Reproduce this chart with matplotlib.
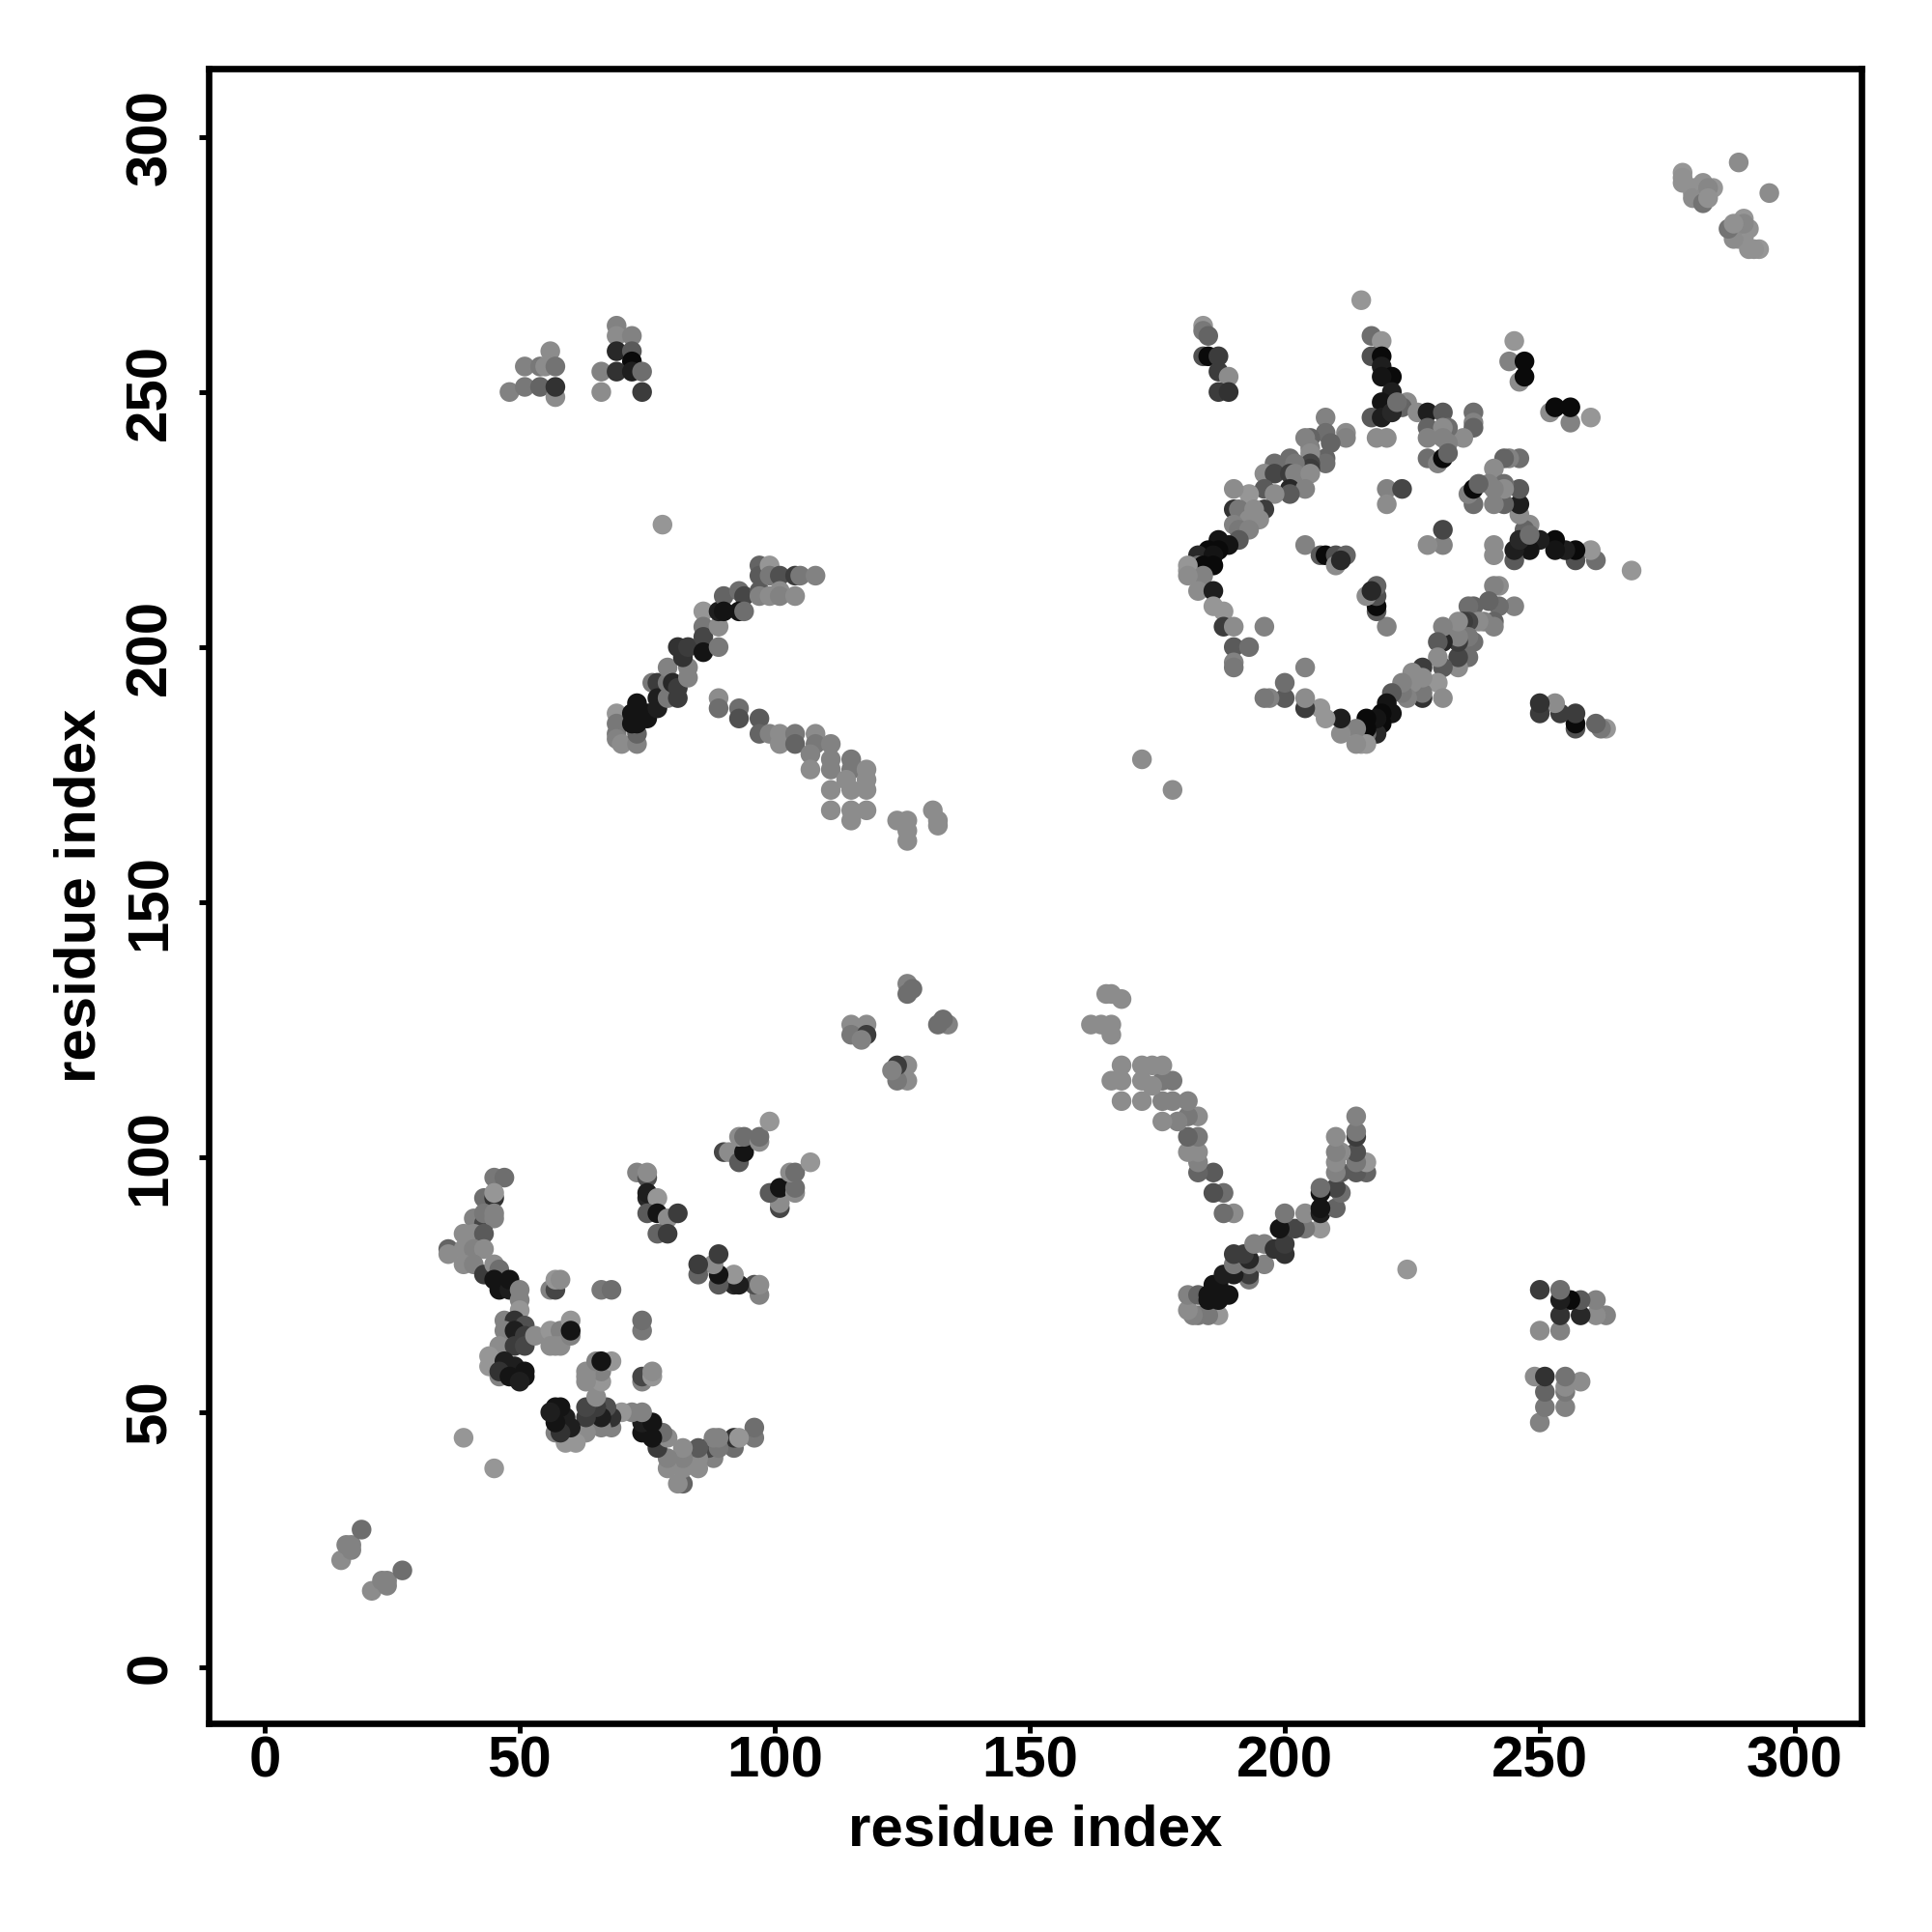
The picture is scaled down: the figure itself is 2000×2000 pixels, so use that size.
import matplotlib
matplotlib.use("Agg")
import matplotlib.pyplot as plt
import numpy as np

# contact pairs (residue i, residue j, grey level), map is symmetric so only i < j is listed
near_start = [(15, 21, 140), (16, 24, 130), (17, 23, 130), (17, 24, 130), (19, 27, 110), (39, 45, 150)]

arc_left = [
    (36, 82, 100), (36, 81, 140), (45, 96, 120), (47, 96, 110), (43, 92, 110), (45, 92, 50), (45, 93, 150),
    (41, 88, 130), (43, 87, 70), (43, 89, 120), (45, 89, 130), (45, 88, 130), (39, 85, 140), (41, 85, 140),
    (43, 85, 90), (39, 82, 140), (41, 82, 130), (43, 82, 140), (39, 79, 140), (41, 79, 130), (43, 77, 60),
    (45, 79, 140), (46, 78, 110), (45, 76, 20), (46, 74, 20), (48, 74, 30), (48, 76, 20), (50, 74, 130),
    (50, 72, 130), (50, 70, 150), (47, 68, 130), (49, 68, 50), (51, 67, 80), (47, 66, 130), (49, 66, 30),
    (51, 65, 60), (46, 63, 140), (49, 63, 60), (51, 63, 70), (44, 61, 150), (44, 59, 150), (47, 60, 30),
    (49, 59, 30), (46, 57, 130), (46, 58, 50), (48, 57, 20), (51, 58, 20), (51, 57, 20), (50, 56, 30),
    (53, 65, 140), (56, 66, 150), (58, 66, 130), (60, 68, 150), (56, 63, 140), (58, 63, 140),
    (57, 63, 140), (60, 65, 130), (60, 66, 20),
]

clusters_left = [
    (56, 74, 130), (57, 74, 70), (57, 76, 150), (58, 76, 140), (66, 74, 120), (68, 74, 110),
    (73, 97, 130), (75, 96, 80), (75, 97, 140), (75, 92, 40), (75, 93, 30), (77, 92, 150),
    (75, 89, 90), (77, 89, 20), (79, 88, 140), (81, 89, 60), (77, 85, 100), (79, 85, 60),
    (90, 101, 70), (91, 101, 140), (93, 99, 90), (94, 101, 20), (93, 104, 140), (94, 104, 110),
    (97, 103, 140), (97, 104, 110), (99, 107, 150),
]

top_left = [
    (48, 250, 130), (51, 255, 130), (51, 251, 120), (54, 255, 120), (54, 251, 100), (55, 255, 140), (56, 258, 140),
    (57, 249, 140), (57, 251, 50), (57, 255, 115), (66, 250, 140), (66, 254, 130), (69, 263, 130), (69, 261, 140),
    (72, 261, 130), (69, 258, 40), (72, 258, 90), (72, 256, 10), (69, 254, 50), (72, 254, 30), (74, 254, 110),
    (74, 250, 60), (78, 224, 150),
]

rising = [
    (69, 187, 150), (69, 185, 120), (69, 183, 120), (69, 182, 130), (70, 181, 140), (73, 181, 130), (73, 183, 100),
    (72, 187, 20), (72, 185, 20), (73, 189, 20), (73, 185, 20), (75, 187, 20), (75, 186, 20), (76, 193, 120),
    (77, 193, 60), (77, 190, 30), (77, 188, 30), (79, 190, 120), (79, 193, 120), (79, 196, 130), (81, 190, 60),
    (80, 193, 40), (81, 192, 60), (83, 194, 130), (83, 196, 130), (82, 198, 50), (81, 200, 50), (83, 200, 60),
    (86, 207, 150), (86, 204, 120), (86, 202, 70), (86, 199, 20), (89, 200, 120), (89, 204, 140), (89, 207, 30),
    (90, 210, 100), (90, 207, 20), (93, 211, 110), (94, 210, 70), (93, 207, 20), (94, 207, 110), (97, 216, 100),
    (97, 214, 90), (97, 211, 90), (97, 210, 130), (99, 216, 150), (99, 214, 120), (99, 210, 140), (101, 214, 80),
    (101, 211, 140), (101, 210, 130), (104, 214, 60), (105, 214, 120), (108, 214, 130), (104, 210, 140),
]

falling = [
    (89, 190, 140), (89, 188, 110), (93, 188, 110), (93, 186, 80), (97, 186, 90), (97, 183, 100), (99, 183, 130),
    (101, 183, 140), (101, 181, 140), (104, 183, 120), (104, 181, 100), (108, 183, 140), (108, 181, 120),
    (107, 179, 130), (107, 176, 140), (111, 181, 130), (111, 178, 130), (111, 176, 130), (115, 178, 120),
    (115, 176, 120), (114, 174, 140), (115, 172, 140), (118, 176, 140), (118, 174, 140), (118, 172, 140),
    (111, 172, 140), (111, 168, 140), (115, 168, 140), (115, 166, 140), (118, 168, 140), (124, 166, 140),
    (126, 166, 140), (126, 164, 140), (126, 162, 140), (131, 168, 140), (132, 166, 140), (132, 165, 140),
]

middle = [
    (115, 126, 140), (118, 126, 140), (115, 124, 120), (118, 124, 60), (117, 123, 130),
    (126, 134, 130), (127, 133, 110), (126, 132, 110), (172, 178, 140),
]

square_side = [
    (208, 245, 130), (212, 242, 140), (212, 241, 130), (208, 242, 110), (205, 241, 100), (204, 241, 130),
    (209, 240, 100), (208, 237, 100), (208, 236, 110), (205, 239, 130), (205, 238, 140), (205, 236, 70),
    (205, 235, 60), (201, 237, 110), (202, 236, 120), (198, 236, 110), (196, 234, 140), (198, 234, 70),
    (201, 234, 60), (202, 234, 130), (205, 234, 140), (201, 231, 40), (204, 231, 130), (201, 230, 90),
    (196, 231, 90), (198, 230, 140), (193, 230, 150), (190, 231, 140), (190, 227, 50), (191, 227, 120),
    (196, 227, 60), (194, 227, 140), (193, 225, 140), (195, 225, 140), (190, 224, 130), (191, 223, 120),
    (193, 223, 130), (191, 221, 90), (187, 221, 20), (189, 220, 20), (185, 219, 10), (187, 219, 10),
    (183, 218, 40), (186, 218, 20), (183, 216, 110), (184, 216, 10), (186, 216, 10), (181, 216, 150),
    (181, 215, 150), (184, 214, 130), (181, 214, 140), (183, 211, 140), (186, 211, 30), (186, 208, 150),
    (188, 207, 150), (188, 204, 60), (190, 204, 140), (196, 204, 130), (190, 200, 90), (193, 200, 110),
    (190, 197, 130), (190, 196, 120),
]

square_top = [
    (184, 263, 150), (184, 262, 120), (185, 261, 100), (184, 257, 80), (185, 257, 10), (187, 257, 60),
    (187, 254, 60), (189, 253, 140), (187, 250, 60), (189, 250, 50),
    (217, 261, 110), (219, 260, 150), (217, 257, 80), (219, 257, 10), (219, 255, 30), (221, 253, 10),
    (219, 253, 20), (221, 250, 30), (224, 248, 140), (223, 247, 100), (219, 248, 20), (217, 245, 90),
    (219, 245, 30), (221, 246, 40), (222, 248, 110), (218, 241, 140), (220, 241, 140), (226, 246, 140),
    (228, 246, 30), (231, 246, 90), (237, 246, 110), (237, 244, 130), (237, 243, 100), (235, 241, 140),
    (228, 243, 100), (232, 243, 110), (231, 243, 140), (228, 241, 130), (231, 241, 130), (232, 240, 130),
    (228, 237, 110), (230, 236, 130), (231, 237, 10), (232, 238, 100),
    (245, 260, 150), (244, 256, 130), (247, 256, 10), (246, 252, 140), (247, 253, 10), (215, 268, 150),
    (204, 220, 130), (207, 218, 90), (208, 218, 10), (210, 218, 80), (212, 218, 100), (210, 216, 140),
    (211, 217, 40), (220, 231, 130), (223, 231, 70), (220, 228, 140),
]

top_right = [
    (278, 293, 150), (278, 292, 145), (278, 291, 145), (280, 290, 145), (280, 289, 145), (280, 288, 140),
    (282, 291, 145), (282, 288, 140), (282, 287, 115), (284, 290, 150), (283, 290, 135), (283, 288, 145),
    (289, 295, 140),
]

tick_values = [0, 50, 100, 150, 200, 250, 300]
axis_label = "residue index"

contacts = np.array(near_start + arc_left + clusters_left + top_left + rising + falling
                    + middle + square_side + square_top + top_right)
res_i = contacts[:, 0]
res_j = contacts[:, 1]
grey = contacts[:, 2]

plt.rcParams['font.family'] = ['Liberation Sans', 'DejaVu Sans']
plt.rcParams['font.weight'] = 'bold'

fig = plt.figure(figsize=(10, 10), dpi=200)
ax = fig.add_axes([216 / 2000, 1 - 1784 / 2000, (1927 - 216) / 2000, (1784 - 71) / 2000])

ax.scatter(np.concatenate([res_i, res_j]), np.concatenate([res_j, res_i]),
           c=np.concatenate([grey, grey]), cmap='gray', vmin=0, vmax=255,
           s=54, linewidths=0, zorder=2)

ax.set_xlim(-10.98, 313.07)
ax.set_ylim(-10.98, 313.4)
ax.set_xticks(tick_values)
ax.set_yticks(tick_values)
ax.tick_params(length=3.6, width=1.8, labelsize=21.6)
ax.tick_params(axis='x', pad=1)
ax.tick_params(axis='y', pad=8)
for lab in ax.get_yticklabels():
    lab.set_rotation(90)
    lab.set_va('center')
for spine in ax.spines.values():
    spine.set_linewidth(2.4)

ax.set_xlabel(axis_label, fontsize=21.6, fontweight='bold', labelpad=5.5)
ax.set_ylabel(axis_label, fontsize=21.6, fontweight='bold', labelpad=6.5)

fig.savefig("out.png", dpi=200)
